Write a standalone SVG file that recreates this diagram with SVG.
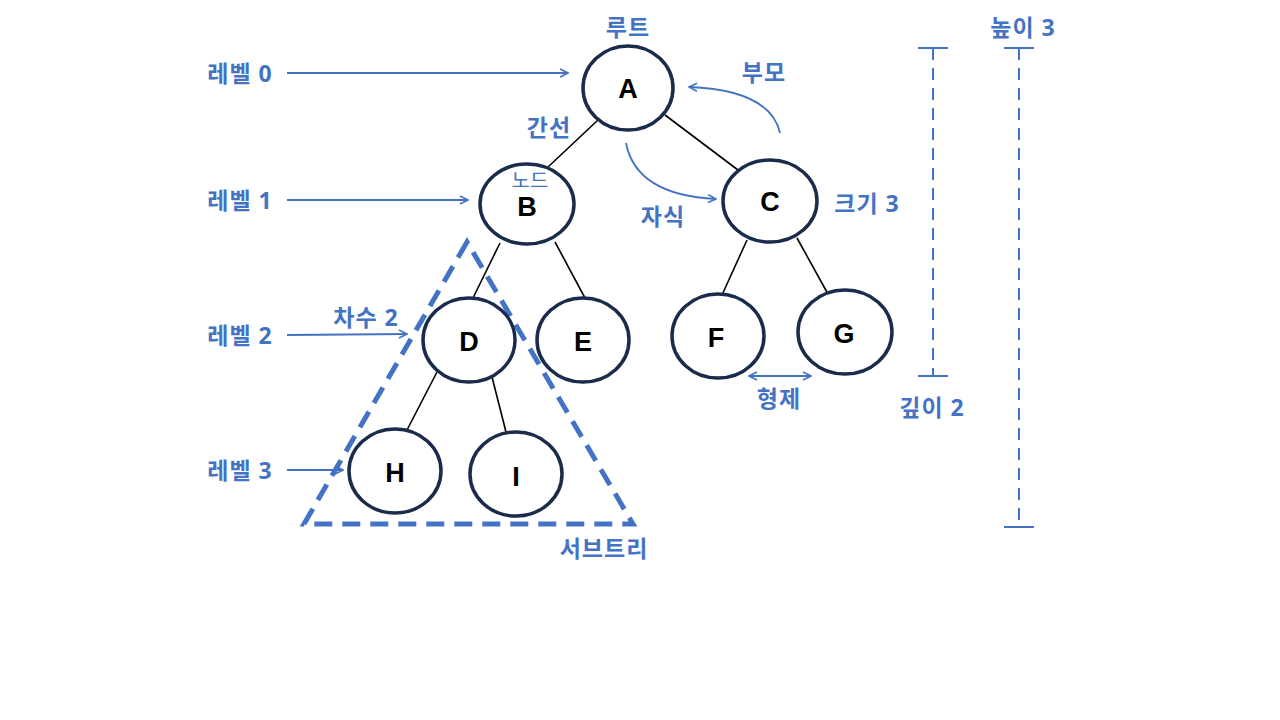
<svg xmlns="http://www.w3.org/2000/svg" width="1280" height="720" viewBox="0 0 1280 720">
<style>
.node ellipse{fill:#fff;stroke:#1b2b4b;stroke-width:3.5}
.node text{font-family:"Liberation Sans","Noto Sans CJK KR",sans-serif;font-weight:bold;font-size:27px;fill:#000;text-anchor:middle;dominant-baseline:central}
.edge{stroke:#000;stroke-width:1.6;fill:none}
.lbl{font-family:"Open Sans","Noto Sans CJK KR",sans-serif;font-weight:bold;font-size:23px;letter-spacing:1px;fill:#4472c4;text-anchor:middle;dominant-baseline:central}
.arr{stroke:#4472c4;stroke-width:1.8;fill:none}
.dim{stroke:#4472c4;stroke-width:2;fill:none}
</style>
<defs>
<marker id="ah" viewBox="0 0 10 10" refX="9" refY="5" markerWidth="10" markerHeight="10" markerUnits="userSpaceOnUse" orient="auto-start-reverse">
<path d="M1,1 L9,5 L1,9" fill="none" stroke="#4472c4" stroke-width="1.6"/>
</marker>
</defs>
<rect width="1280" height="720" fill="#fff"/>
<g id="connectors">
<line class="edge" x1="598" y1="120" x2="548" y2="167"/>
<line class="edge" x1="665" y1="115" x2="738" y2="170"/>
<line class="edge" x1="500" y1="243" x2="472" y2="300"/>
<line class="edge" x1="555" y1="242" x2="585" y2="298"/>
<line class="edge" x1="437" y1="372" x2="407" y2="430"/>
<line class="edge" x1="492" y1="377" x2="506" y2="432"/>
<line class="edge" x1="747" y1="240" x2="722" y2="295"/>
<line class="edge" x1="797" y1="238" x2="828" y2="294"/>
<line class="arr" x1="287" y1="73" x2="568" y2="73" marker-end="url(#ah)"/>
<line class="arr" x1="287" y1="200" x2="468" y2="200" marker-end="url(#ah)"/>
<line class="arr" x1="287" y1="335" x2="407" y2="334" marker-end="url(#ah)"/>
<line class="arr" x1="287" y1="470" x2="343" y2="470" marker-end="url(#ah)"/>
<path class="arr" d="M780,133 Q770,90 689,87" marker-end="url(#ah)"/>
<path class="arr" d="M626,143 Q636,195 716,199" marker-end="url(#ah)"/>
<line class="arr" x1="749" y1="376" x2="811" y2="376" marker-start="url(#ah)" marker-end="url(#ah)"/>
</g>
<g id="subtree">
<path d="M467,242 L304,524 L633,524 Z" fill="none" stroke="#4472c4" stroke-width="5" stroke-dasharray="18,10"/>
</g>
<g id="dims">
<line class="dim" x1="933" y1="48" x2="933" y2="376" stroke-dasharray="12,8"/>
<line class="dim" x1="918" y1="48" x2="948" y2="48"/>
<line class="dim" x1="918" y1="376" x2="948" y2="376"/>
<line class="dim" x1="1019" y1="48" x2="1019" y2="527" stroke-dasharray="12,8"/>
<line class="dim" x1="1004" y1="48" x2="1034" y2="48"/>
<line class="dim" x1="1004" y1="527" x2="1034" y2="527"/>
</g>
<g id="nA" class="node"><ellipse cx="628" cy="88" rx="45" ry="42"/><text x="628" y="89">A</text></g>
<g id="nB" class="node"><ellipse cx="527" cy="204" rx="47" ry="40"/><text x="527" y="207">B</text></g>
<g id="nC" class="node"><ellipse cx="770" cy="201" rx="47" ry="41"/><text x="770" y="202">C</text></g>
<g id="nD" class="node"><ellipse cx="469" cy="340" rx="46" ry="42"/><text x="469" y="342">D</text></g>
<g id="nE" class="node"><ellipse cx="583" cy="340" rx="46" ry="42"/><text x="583" y="342">E</text></g>
<g id="nF" class="node"><ellipse cx="718" cy="336" rx="46" ry="42"/><text x="716" y="338">F</text></g>
<g id="nG" class="node"><ellipse cx="845" cy="332" rx="47" ry="42"/><text x="844" y="334">G</text></g>
<g id="nH" class="node"><ellipse cx="395" cy="471" rx="46" ry="42"/><text x="395" y="473">H</text></g>
<g id="nI" class="node"><ellipse cx="516" cy="474" rx="46" ry="42"/><text x="516" y="477">I</text></g>
<g id="labels">
<text class="lbl" x="628" y="27">루트</text>
<text class="lbl" x="240" y="73">레벨 0</text>
<text class="lbl" x="240" y="200">레벨 1</text>
<text class="lbl" x="240" y="335">레벨 2</text>
<text class="lbl" x="240" y="470">레벨 3</text>
<text class="lbl" x="549" y="127">간선</text>
<text class="lbl" x="530" y="180" style="font-size:20px;font-weight:normal;letter-spacing:0">노드</text>
<text class="lbl" x="663" y="216">자식</text>
<text class="lbl" x="764" y="72">부모</text>
<text class="lbl" x="867" y="203">크기 3</text>
<text class="lbl" x="779" y="398">형제</text>
<text class="lbl" x="932" y="407">깊이 2</text>
<text class="lbl" x="1023" y="27">높이 3</text>
<text class="lbl" x="366" y="317">차수 2</text>
<text class="lbl" x="604" y="548">서브트리</text>
</g>
</svg>
